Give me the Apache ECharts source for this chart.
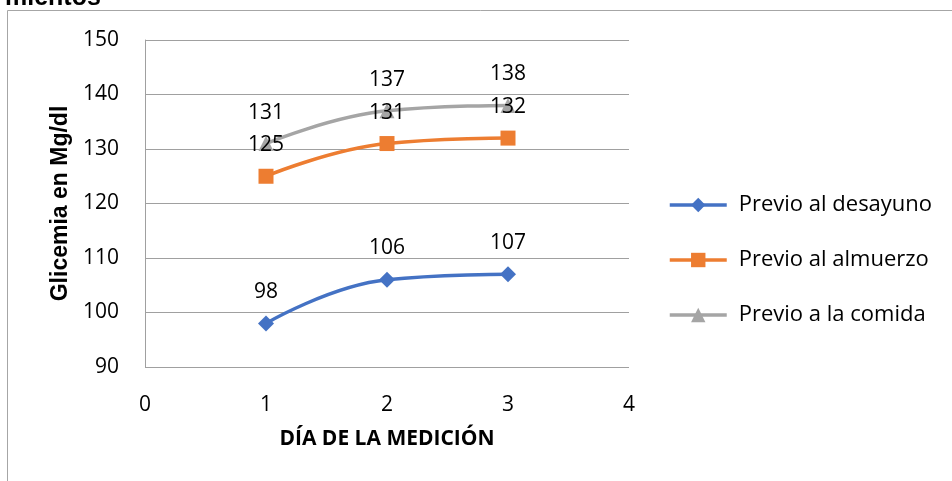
<!DOCTYPE html>
<html><head><meta charset="utf-8">
<script src="https://cdn.jsdelivr.net/npm/echarts@6/dist/echarts.min.js"></script>
<style>html,body{margin:0;padding:0;background:#fff}#c{width:952px;height:481px}</style>
</head><body><div id="c"></div>
<script>
const days = [1, 2, 3];
const seriesNames = ["Previo al desayuno", "Previo al almuerzo", "Previo a la comida"];
const desayuno = [98, 106, 107];
const almuerzo = [125, 131, 132];
const comida = [131, 137, 138];
const colors = ["#4472C4", "#ED7D31", "#A5A5A5"];
const symbols = ["diamond", "rect", "triangle"];
const symbolSizes = [16, 15, 15];
const xTicks = [0, 1, 2, 3, 4];
const yTicks = [90, 100, 110, 120, 130, 140, 150];

const font = "Open Sans";
const values = [desayuno, almuerzo, comida];
const chart = echarts.init(document.getElementById('c'));
chart.setOption({
  animation: false,
  title: {text: "mientos", left: 0, top: -19, textStyle: {fontSize: 25, fontWeight: "bold", color: "#000", fontFamily: "Liberation Sans"}},
  graphic: [{type: "rect", shape: {x: 7.5, y: 10.5, width: 1000, height: 600}, style: {fill: "none", stroke: "#a6a6a6", lineWidth: 1}, silent: true, z: -10}],
  grid: {left: 145, right: 323, top: 40, bottom: 114},
  legend: {
    orient: "vertical", left: 668, top: 194, padding: 0, itemGap: 33, itemWidth: 57, itemHeight: 18,
    lineStyle: {width: 3.5},
    textStyle: {fontSize: 22, fontFamily: font, color: "#000", padding: [0, 0, 0, 7]},
    data: seriesNames
  },
  xAxis: {
    type: "value", min: xTicks[0], max: xTicks[xTicks.length - 1], interval: 1,
    name: "DÍA DE LA MEDICIÓN", nameLocation: "middle", nameGap: 62,
    nameTextStyle: {fontSize: 21, fontWeight: "bold", fontFamily: font, color: "#000"},
    axisLine: {show: false}, axisTick: {show: false}, splitLine: {show: false},
    axisLabel: {fontSize: 21, fontFamily: font, color: "#000", margin: 28}
  },
  yAxis: {
    type: "value", min: yTicks[0], max: yTicks[yTicks.length - 1], interval: 10,
    name: "Glicemia en Mg/dl", nameLocation: "middle", nameGap: 70, nameRotate: 90,
    nameTextStyle: {fontSize: 23, fontWeight: "bold", fontFamily: "Liberation Sans", color: "#000"},
    axisLine: {show: true, lineStyle: {color: "#a0a0a0"}}, axisTick: {show: false},
    splitLine: {lineStyle: {color: "#a0a0a0"}},
    axisLabel: {fontSize: 21, fontFamily: font, color: "#000", margin: 26}
  },
  series: values.map((v, i) => ({
    name: seriesNames[i], type: "line", smooth: 0.45,
    data: days.map((d, j) => [d, v[j]]),
    symbol: symbols[i], symbolSize: symbolSizes[i], showAllSymbol: true,
    itemStyle: {color: colors[i]}, lineStyle: {color: colors[i], width: 3.5},
    label: {show: true, position: "top", distance: 13, fontSize: 21, fontFamily: font, color: "#000", formatter: p => p.value[1]}
  }))
});
</script></body></html>
